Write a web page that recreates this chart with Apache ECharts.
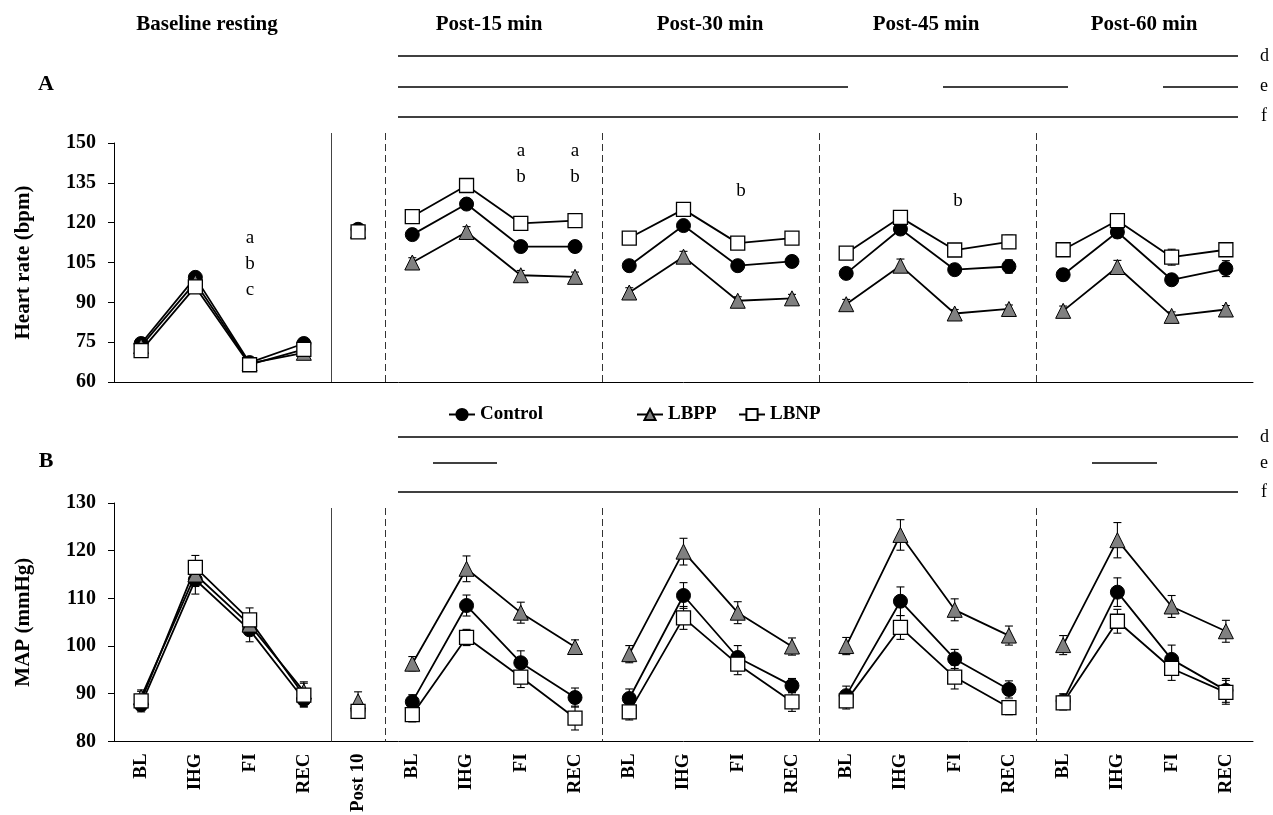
<!DOCTYPE html>
<html>
<head>
<meta charset="utf-8">
<script src="https://cdn.jsdelivr.net/npm/echarts@6/dist/echarts.min.js"></script>
<style>
  html, body { margin: 0; padding: 0; background: #fff; }
  #chart { width: 1273px; height: 815px; }
</style>
</head>
<body>
<div id="chart"></div>
<script>
const stageLabels = ['BL', 'IHG', 'FI', 'REC'];
const categories = [...stageLabels, 'Post 10', ...stageLabels, ...stageLabels, ...stageLabels, ...stageLabels];
const groups = [[0, 3], [4, 4], [5, 8], [9, 12], [13, 16], [17, 20]];
const conditions = ['Control', 'LBPP', 'LBNP'];

// heart rate (bpm)
const hrControl = [74.5, 99.4, 67.3, 74.5, 117.5, 115.5, 127, 111, 111, 103.8, 118.9, 103.8, 105.4, 100.9, 117.6, 102.3, 103.5, 100.4, 116.5, 98.5, 102.7];
const hrLBPP = [73.5, 97.5, 67, 71, 117, 105, 116.5, 100.2, 99.6, 93.7, 107.2, 90.6, 91.5, 89.3, 103.8, 85.8, 87.5, 86.8, 103.3, 84.9, 87.3];
const hrLBNP = [71.8, 95.8, 66.5, 72.3, 116.5, 122.3, 134, 119.7, 120.8, 114.2, 125, 112.3, 114.2, 108.5, 122, 109.7, 112.8, 109.8, 120.8, 107, 109.8];
const hrControlErr = [1.5, 1.8, 1.2, 1.5, 1.5, 2, 2, 1.8, 2, 1.8, 2, 1.8, 1.8, 2, 2, 2, 2.5, 2.2, 2.2, 2, 3];
const hrLBPPErr = [1.5, 1.8, 1.2, 1.5, 1.5, 1.8, 2, 1.8, 1.8, 1.8, 2, 1.5, 1.5, 1.8, 2.5, 1.5, 1.5, 1.8, 2.5, 1.5, 1.5];
const hrLBNPErr = [1.5, 1.8, 1.2, 1.5, 1.5, 1.8, 2, 1.8, 1.8, 1.8, 2, 1.8, 1.8, 1.8, 2, 2, 2.5, 2, 2, 3, 2];

// mean arterial pressure (mmHg)
const mapControl = [87.7, 113.9, 103.4, 88.8, 86.5, 88.3, 108.5, 96.5, 89.2, 89, 110.6, 97.6, 91.7, 89.6, 109.4, 97.3, 90.9, 88.5, 111.3, 97.2, 90.7];
const mapLBPP = [89.3, 115, 104.5, 90.5, 88.4, 96.3, 116.2, 107, 99.8, 98.3, 119.8, 107, 99.9, 100, 123.3, 107.6, 102.2, 100.2, 122.2, 108.3, 103.1];
const mapLBNP = [88.5, 116.5, 105.5, 89.7, 86.3, 85.6, 101.8, 93.5, 84.9, 86.2, 105.9, 96.2, 88.3, 88.5, 103.9, 93.5, 87.1, 88.1, 105.2, 95.3, 90.3];
const mapControlErr = [1.5, 3, 2.5, 1.5, 1.5, 1.5, 2.2, 2.5, 2, 2, 2.7, 2.5, 1.5, 2, 3, 2, 1.8, 1.5, 3, 3, 2.5];
const mapLBPPErr = [1.5, 2.5, 2, 2, 2, 1.5, 2.7, 2.2, 1.5, 1.8, 2.8, 2.3, 1.8, 1.8, 3.2, 2.3, 2, 2, 3.7, 2.3, 2.3];
const mapLBNPErr = [2, 2.5, 2.5, 2.5, 1.5, 1.5, 1.7, 2.2, 2.5, 1.7, 2.4, 2.2, 2, 1.7, 2.5, 2.5, 1.5, 1.5, 2.5, 2.5, 2.5];

// boundaries between groups: [index before boundary, dashed?]
const separators = [[3, 0], [4, 1], [8, 1], [12, 1], [16, 1]];

const FONT = 'Liberation Serif, Times New Roman, serif';
const panels = [
  { values: [hrControl, hrLBPP, hrLBNP], errs: [hrControlErr, hrLBPPErr, hrLBNPErr], sepTop: -10 },
  { values: [mapControl, mapLBPP, mapLBNP], errs: [mapControlErr, mapLBPPErr, mapLBNPErr], sepTop: 5 }
];

const symbolStyle = {
  Control: { symbol: 'circle', symbolSize: 14, itemStyle: { color: '#000', borderColor: '#000', borderWidth: 1 } },
  LBPP: { symbol: 'triangle', symbolSize: 15, itemStyle: { color: '#808080', borderColor: '#000', borderWidth: 1 } },
  LBNP: { symbol: 'rect', symbolSize: 14, itemStyle: { color: '#fff', borderColor: '#000', borderWidth: 1.3 } }
};

function renderErr(params, api) {
  const x = api.value(0), m = api.value(1), e = api.value(2);
  const hi = api.coord([x, m + e]);
  const lo = api.coord([x, m - e]);
  const w = 4;
  const st = { stroke: '#000', lineWidth: 1.1 };
  return {
    type: 'group',
    children: [
      { type: 'line', shape: { x1: hi[0], y1: hi[1], x2: lo[0], y2: lo[1] }, style: st },
      { type: 'line', shape: { x1: hi[0] - w, y1: hi[1], x2: hi[0] + w, y2: hi[1] }, style: st },
      { type: 'line', shape: { x1: lo[0] - w, y1: lo[1], x2: lo[0] + w, y2: lo[1] }, style: st }
    ]
  };
}

function renderSep(params, api) {
  const idx = api.value(0), dashed = api.value(1), top = api.value(2);
  const cs = params.coordSys;
  const x = Math.round(api.coord([idx, 0])[0] + api.size([1, 0])[0] / 2) + 0.5;
  return {
    type: 'line',
    shape: { x1: x, y1: cs.y + top, x2: x, y2: cs.y + cs.height },
    style: { stroke: dashed ? '#333' : '#444', lineWidth: 1, lineDash: dashed ? [7, 4] : null }
  };
}

const series = [];
panels.forEach((p, pi) => {
  series.push({
    type: 'custom', xAxisIndex: pi, yAxisIndex: pi, silent: true, z: 1,
    renderItem: renderSep, encode: { x: 0 },
    data: separators.map(s => [s[0], s[1], p.sepTop])
  });
  conditions.forEach((c, ci) => {
    series.push({
      type: 'custom', name: c + ' SEM', xAxisIndex: pi, yAxisIndex: pi, silent: true, z: 2,
      renderItem: renderErr, encode: { x: 0, y: 1 },
      data: p.values[ci].map((v, i) => [i, v, p.errs[ci][i]])
    });
  });
  conditions.forEach((c, ci) => {
    groups.forEach(g => {
      series.push(Object.assign({
        type: 'line', name: c, xAxisIndex: pi, yAxisIndex: pi, z: 3,
        showSymbol: true, showAllSymbol: true, connectNulls: false, animation: false,
        lineStyle: { color: '#000', width: 1.8 },
        data: p.values[ci].map((v, i) => (i >= g[0] && i <= g[1] ? v : '-'))
      }, symbolStyle[c]));
    });
  });
});

const xAxisBase = {
  type: 'category', data: categories, boundaryGap: true,
  axisLine: { lineStyle: { color: '#000', width: 1 } },
  axisTick: { show: false }
};
const yAxisBase = {
  type: 'value', splitLine: { show: false },
  axisLine: { show: true, lineStyle: { color: '#000', width: 1 } },
  axisTick: { show: true, length: 6, lineStyle: { color: '#000' } },
  axisLabel: { color: '#000', fontFamily: FONT, fontWeight: 'bold', fontSize: 20, margin: 18 },
  nameLocation: 'middle', nameGap: 80,
  nameTextStyle: { color: '#000', fontFamily: FONT, fontWeight: 'bold', fontSize: 21 }
};

const legendText = { color: '#000', fontFamily: FONT, fontWeight: 'bold', fontSize: 19 };
const legendBase = { orient: 'horizontal', top: 400, itemWidth: 26, itemHeight: 14, itemGap: 0, selectedMode: false, textStyle: legendText };

const txt = (text, x, y, opt = {}) => ({
  type: 'text', x, y, silent: true,
  style: Object.assign({ text, fill: '#000', font: 'bold 21px ' + FONT, align: 'center', verticalAlign: 'middle' }, opt)
});
const hline = (x1, x2, y) => ({
  type: 'line', silent: true,
  shape: { x1, y1: y, x2, y2: y }, style: { stroke: '#000', lineWidth: 1.5 }
});
const plain = { font: '19px ' + FONT };
const letter = { font: '18px ' + FONT, align: 'left' };

const graphic = [
  txt('Baseline resting', 207, 25), txt('Post-15 min', 489, 25), txt('Post-30 min', 710, 25),
  txt('Post-45 min', 926, 25), txt('Post-60 min', 1144, 25),
  txt('A', 46, 84, { font: 'bold 22px ' + FONT }), txt('B', 46, 461, { font: 'bold 22px ' + FONT }),
  hline(398, 1238, 56), hline(398, 848, 87), hline(943, 1068, 87), hline(1163, 1238, 87), hline(398, 1238, 117),
  txt('d', 1260, 56, letter), txt('e', 1260, 86, letter), txt('f', 1261, 116, letter),
  hline(398, 1238, 437), hline(433, 497, 463), hline(1092, 1157, 463), hline(398, 1238, 492),
  txt('d', 1260, 437, letter), txt('e', 1260, 463, letter), txt('f', 1261, 492, letter),
  txt('a', 250, 238, plain), txt('b', 250, 264, plain), txt('c', 250, 290, plain),
  txt('a', 521, 151, plain), txt('b', 521, 177, plain),
  txt('a', 575, 151, plain), txt('b', 575, 177, plain),
  txt('b', 741, 191, plain), txt('b', 958, 201, plain)
];

const chart = echarts.init(document.getElementById('chart'));
chart.setOption({
  backgroundColor: '#fff',
  animation: false,
  grid: [
    { left: 114, right: 20, top: 143, height: 239 },
    { left: 114, right: 20, top: 503, height: 240 }
  ],
  xAxis: [
    Object.assign({}, xAxisBase, { gridIndex: 0, axisLabel: { show: false } }),
    Object.assign({}, xAxisBase, {
      gridIndex: 1,
      axisLabel: { interval: 0, rotate: 90, margin: 12, color: '#000', fontFamily: FONT, fontWeight: 'bold', fontSize: 19 }
    })
  ],
  yAxis: [
    Object.assign({}, yAxisBase, { gridIndex: 0, min: 60, max: 150, interval: 15, name: 'Heart rate (bpm)' }),
    Object.assign({}, yAxisBase, { gridIndex: 1, min: 80, max: 130, interval: 10, name: 'MAP (mmHg)' })
  ],
  legend: [
    Object.assign({}, legendBase, { left: 443, data: ['Control'] }),
    Object.assign({}, legendBase, { left: 631, data: ['LBPP'] }),
    Object.assign({}, legendBase, { left: 733, data: ['LBNP'] })
  ],
  graphic,
  series
});
</script>
</body>
</html>
